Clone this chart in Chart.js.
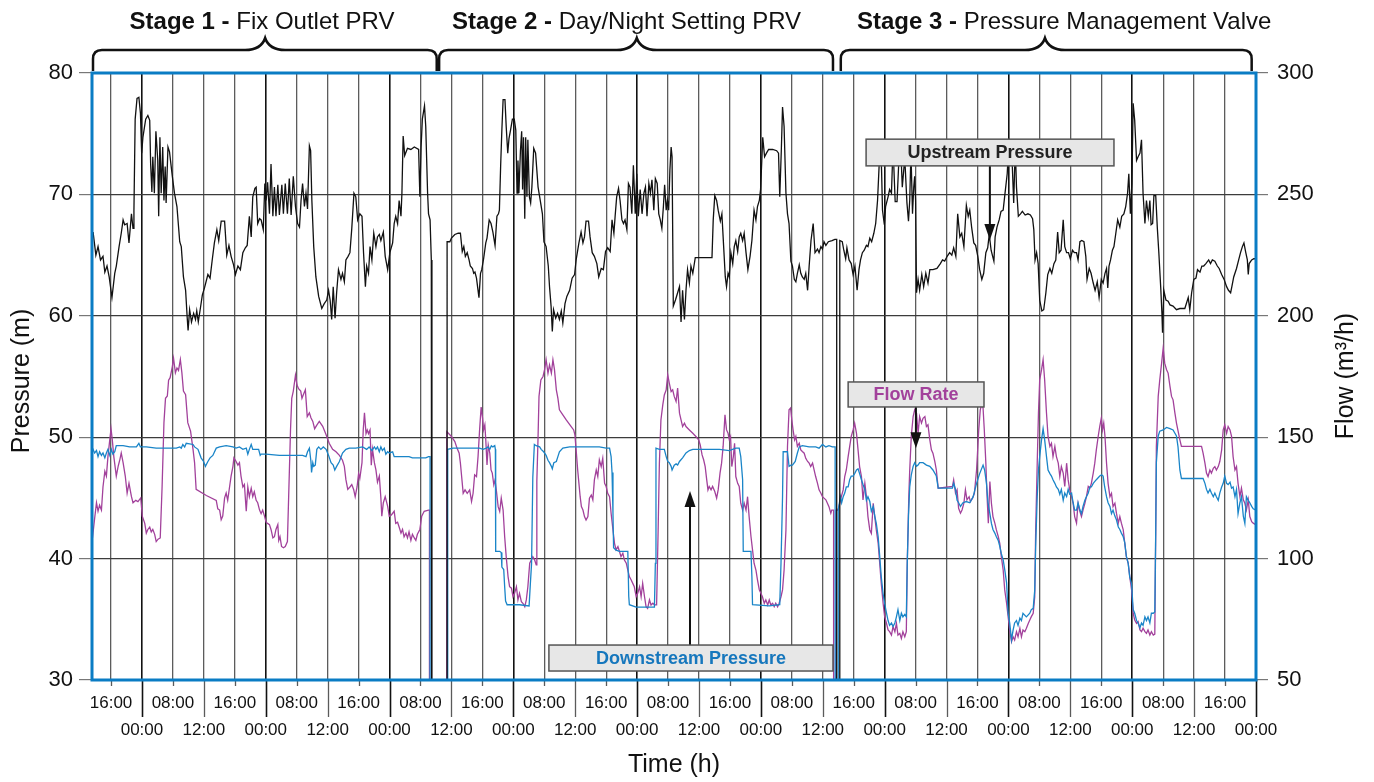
<!DOCTYPE html>
<html><head><meta charset="utf-8">
<script src="https://cdn.jsdelivr.net/npm/chart.js@4.4.0/dist/chart.umd.min.js"></script>
<style>html,body{margin:0;padding:0;background:#fff;}#wrap{width:1374px;height:782px;}</style>
</head><body><div id="wrap"><canvas id="c" width="1374" height="782"></canvas></div>
<script>
// ---------- DATA ----------
// x unit = tick index along the time axis (0 = first "16:00" tick)
const xTickLabels = ['16:00','00:00','08:00','12:00','16:00','00:00','08:00','12:00','16:00','00:00','08:00','12:00',
 '16:00','00:00','08:00','12:00','16:00','00:00','08:00','12:00','16:00','00:00','08:00','12:00',
 '16:00','00:00','08:00','12:00','16:00','00:00','08:00','12:00','16:00','00:00','08:00','12:00','16:00','00:00'];
const pressureTicks = [30,40,50,60,70,80];
const flowTicks = [50,100,150,200,250,300];
const stageBold = ['Stage 1 -','Stage 2 -','Stage 3 -'];
const stageText = [' Fix Outlet PRV',' Day/Night Setting PRV',' Pressure Management Valve'];
const seriesNames = ['Upstream Pressure','Downstream Pressure','Flow Rate'];

const upstreamPressure = [
[-0.58,66.9],[-0.49,65.0],[-0.42,65.7],[-0.34,64.6],[-0.26,64.9],[-0.20,63.6],[-0.13,64.1],[-0.06,63.2],[0.03,61.5],[0.12,63.5],[0.17,64.1],[0.26,65.7],[0.33,66.8],[0.39,67.9],[0.44,67.5],[0.52,67.6],[0.58,66.0],[0.66,68.4],[0.71,67.2],[0.74,68.6],[0.78,76.2],[0.84,77.9],[0.90,78.0],[0.95,76.7],[0.99,73.4],[1.03,74.7],[1.12,76.2],[1.19,76.5],[1.25,76.1],[1.28,72.5],[1.32,70.2],[1.35,73.1],[1.40,70.1],[1.45,75.2],[1.51,72.8],[1.54,68.2],[1.58,74.7],[1.62,70.1],[1.67,73.9],[1.71,69.5],[1.75,72.3],[1.78,69.3],[1.84,73.9],[1.89,73.5],[1.98,71.5],[2.05,70.1],[2.13,69.0],[2.22,66.1],[2.27,65.7],[2.34,63.2],[2.41,62.1],[2.46,59.9],[2.49,58.8],[2.54,60.5],[2.60,59.5],[2.67,60.2],[2.73,59.7],[2.77,60.4],[2.82,59.5],[2.88,60.5],[2.95,61.7],[3.02,62.3],[3.13,63.4],[3.20,63.1],[3.27,64.6],[3.34,66.0],[3.42,67.1],[3.48,66.2],[3.56,67.8],[3.67,67.8],[3.74,65.0],[3.81,65.8],[3.88,64.9],[3.96,64.2],[4.02,63.4],[4.10,64.1],[4.18,63.8],[4.26,65.2],[4.34,65.6],[4.40,65.8],[4.47,68.2],[4.53,66.5],[4.58,69.8],[4.65,70.5],[4.69,70.6],[4.74,67.6],[4.80,68.0],[4.85,67.9],[4.92,67.1],[4.97,70.9],[5.01,69.5],[5.06,71.0],[5.12,68.4],[5.17,72.5],[5.23,68.2],[5.28,70.6],[5.33,68.2],[5.39,70.8],[5.44,68.3],[5.52,70.8],[5.57,68.4],[5.63,70.9],[5.70,68.4],[5.76,71.3],[5.82,68.3],[5.89,71.5],[5.96,69.0],[6.03,67.6],[6.09,67.3],[6.14,69.5],[6.19,70.9],[6.25,69.0],[6.30,70.1],[6.35,68.8],[6.41,74.0],[6.45,73.6],[6.49,69.5],[6.55,65.7],[6.62,63.2],[6.71,61.6],[6.81,60.6],[6.89,61.0],[6.97,61.3],[7.03,62.1],[7.08,61.3],[7.13,59.7],[7.18,62.4],[7.24,59.8],[7.29,61.9],[7.35,63.8],[7.43,63.0],[7.48,63.5],[7.54,62.8],[7.59,64.6],[7.66,64.9],[7.72,65.2],[7.78,67.2],[7.85,70.1],[7.91,69.8],[7.97,67.9],[8.04,68.4],[8.11,68.2],[8.16,65.2],[8.22,62.4],[8.26,64.1],[8.32,63.5],[8.37,65.7],[8.43,64.6],[8.49,66.8],[8.56,65.7],[8.61,66.5],[8.67,66.7],[8.72,66.2],[8.80,66.9],[8.86,64.9],[8.94,63.8],[9.01,65.2],[9.10,66.0],[9.15,67.6],[9.20,68.2],[9.26,67.6],[9.31,69.5],[9.37,68.2],[9.40,70.1],[9.44,74.8],[9.49,73.2],[9.58,73.8],[9.69,73.7],[9.80,73.9],[9.94,73.7],[9.98,69.8],[10.02,73.9],[10.06,76.2],[10.13,77.3],[10.17,75.6],[10.23,70.1],[10.26,68.4],[10.31,67.9],[10.35,64.6],[10.37,64.0],[10.37,0],[10.86,0],
[10.86,66.1],[10.95,66.1],[11.0,66.4],[11.11,66.7],[11.22,66.8],[11.29,66.8],[11.35,65.3],[11.40,65.7],[11.45,64.9],[11.51,65.2],[11.57,64.6],[11.61,64.1],[11.68,63.9],[11.72,63.5],[11.76,63.6],[11.81,63.1],[11.86,62.1],[11.89,61.5],[11.94,63.5],[11.98,63.8],[12.04,64.7],[12.11,66.0],[12.15,66.4],[12.22,67.9],[12.28,67.6],[12.34,66.9],[12.41,65.8],[12.47,68.2],[12.52,68.4],[12.55,68.7],[12.59,72.3],[12.63,75.3],[12.67,77.8],[12.73,77.8],[12.77,75.6],[12.82,73.4],[12.86,74.6],[12.91,75.3],[12.97,76.2],[13.03,76.2],[13.08,75.3],[13.12,70.1],[13.15,72.8],[13.18,70.1],[13.23,73.6],[13.27,75.2],[13.30,70.4],[13.33,74.7],[13.37,68.0],[13.40,74.7],[13.44,69.8],[13.47,74.5],[13.52,69.8],[13.56,69.3],[13.60,70.6],[13.66,73.8],[13.72,73.4],[13.80,70.6],[13.87,69.5],[13.94,68.4],[13.99,66.1],[14.06,65.7],[14.13,64.1],[14.17,62.4],[14.22,60.8],[14.26,58.7],[14.30,60.5],[14.37,59.8],[14.43,60.2],[14.49,59.7],[14.55,60.4],[14.60,59.4],[14.67,61.0],[14.73,61.6],[14.82,62.1],[14.90,63.1],[14.98,63.4],[15.03,64.6],[15.12,66.0],[15.19,66.9],[15.25,66.0],[15.30,66.5],[15.35,67.8],[15.43,67.8],[15.48,66.5],[15.55,65.2],[15.62,64.9],[15.70,64.3],[15.76,63.2],[15.84,63.9],[15.91,63.8],[15.98,65.3],[16.05,65.6],[16.13,65.3],[16.19,67.9],[16.25,66.8],[16.29,68.2],[16.34,69.8],[16.40,70.5],[16.45,69.5],[16.51,67.9],[16.56,67.6],[16.61,67.9],[16.67,67.1],[16.72,70.9],[16.77,70.6],[16.83,68.4],[16.88,72.4],[16.94,68.4],[16.99,71.7],[17.04,68.2],[17.10,70.4],[17.16,68.4],[17.22,70.1],[17.27,70.6],[17.32,68.2],[17.38,70.9],[17.43,70.1],[17.48,71.2],[17.54,68.7],[17.59,71.3],[17.65,70.9],[17.70,68.4],[17.75,67.9],[17.80,67.2],[17.85,69.0],[17.89,70.8],[17.94,68.7],[17.98,69.5],[18.02,68.7],[18.06,72.0],[18.10,73.9],[18.13,73.1],[18.17,60.8],[18.24,61.3],[18.31,61.9],[18.37,62.4],[18.42,59.5],[18.47,62.1],[18.53,59.7],[18.58,62.1],[18.63,63.8],[18.69,62.7],[18.74,64.1],[18.80,63.5],[18.88,64.8],[19.42,64.8],[19.46,67.9],[19.51,69.9],[19.57,69.5],[19.62,68.7],[19.69,67.8],[19.74,68.4],[19.78,66.5],[19.85,63.2],[19.89,62.4],[19.94,63.5],[19.98,63.2],[20.03,65.2],[20.09,64.3],[20.14,65.7],[20.19,66.2],[20.25,65.3],[20.30,66.5],[20.35,66.8],[20.41,66.2],[20.46,66.8],[20.52,65.2],[20.58,63.8],[20.65,64.9],[20.71,66.2],[20.78,68.7],[20.84,67.9],[20.89,69.0],[20.95,69.5],[20.99,70.4],[21.03,72.8],[21.06,74.7],[21.12,73.1],[21.18,73.4],[21.25,73.7],[21.38,73.7],[21.51,73.6],[21.57,73.4],[21.61,69.8],[21.66,73.6],[21.70,77.2],[21.75,75.6],[21.81,70.1],[21.86,68.4],[21.91,67.6],[21.97,64.5],[22.02,64.1],[22.08,63.0],[22.13,62.8],[22.18,63.5],[22.24,64.2],[22.29,63.5],[22.34,63.2],[22.40,63.0],[22.45,63.5],[22.51,62.1],[22.56,64.1],[22.62,66.2],[22.69,67.6],[22.75,65.2],[22.83,65.5],[22.88,65.2],[22.94,65.7],[22.99,65.5],[23.04,66.1],[23.10,65.8],[23.18,66.1],[23.30,66.2],[23.39,66.3],[23.45,66.3],[23.45,0],[23.55,0],
[23.55,66.2],[23.63,66.1],[23.68,65.4],[23.74,64.7],[23.78,65.6],[23.85,64.6],[23.92,64.3],[23.98,63.4],[24.04,64.1],[24.11,62.1],[24.17,63.8],[24.22,64.6],[24.28,65.2],[24.34,65.4],[24.41,65.8],[24.46,65.7],[24.52,66.4],[24.58,66.1],[24.65,66.8],[24.71,67.6],[24.77,69.5],[24.82,72.3],[24.86,74.5],[24.90,72.0],[24.93,68.7],[24.99,67.5],[25.03,69.0],[25.11,69.8],[25.16,70.4],[25.22,70.1],[25.27,74.0],[25.34,69.4],[25.40,69.4],[25.45,72.3],[25.51,74.5],[25.57,70.6],[25.65,73.0],[25.72,69.3],[25.77,67.8],[25.81,69.5],[25.85,73.5],[25.90,68.4],[25.94,70.6],[25.97,71.5],[26.00,69.5],[26.03,61.9],[26.08,63.0],[26.13,62.1],[26.20,63.4],[26.26,62.4],[26.33,63.5],[26.40,62.7],[26.46,63.8],[26.56,63.8],[26.69,63.9],[26.80,64.3],[26.87,64.6],[26.94,64.5],[27.02,64.9],[27.10,65.2],[27.17,65.0],[27.23,65.6],[27.30,64.9],[27.36,68.4],[27.43,66.5],[27.49,66.8],[27.56,65.7],[27.64,69.1],[27.70,68.2],[27.75,68.7],[27.81,67.3],[27.88,66.0],[27.94,65.8],[28.01,64.9],[28.07,63.8],[28.14,63.0],[28.20,63.5],[28.27,65.2],[28.33,65.6],[28.38,66.7],[28.44,65.4],[28.49,64.9],[28.53,64.5],[28.57,66.5],[28.63,67.3],[28.70,67.9],[28.76,68.6],[28.83,68.7],[28.89,70.1],[28.96,71.7],[29.02,74.5],[29.10,74.0],[29.17,69.3],[29.22,74.0],[29.26,70.6],[29.32,68.2],[29.39,68.4],[29.45,68.6],[29.54,68.3],[29.63,68.4],[29.71,68.3],[29.78,68.0],[29.82,67.1],[29.86,64.6],[29.91,65.2],[29.96,64.3],[30.01,61.3],[30.08,60.4],[30.14,60.5],[30.21,61.9],[30.27,63.4],[30.34,63.9],[30.40,63.5],[30.47,64.3],[30.53,64.6],[30.59,66.9],[30.64,65.2],[30.70,65.4],[30.77,67.9],[30.82,65.7],[30.88,65.2],[30.94,65.2],[31.00,64.7],[31.07,65.4],[31.13,65.2],[31.20,65.2],[31.25,64.6],[31.31,66.1],[31.37,66.2],[31.44,66.1],[31.50,64.9],[31.54,63.0],[31.61,63.9],[31.67,63.5],[31.74,62.7],[31.80,62.1],[31.87,62.8],[31.93,61.5],[32.00,63.0],[32.06,62.7],[32.12,63.5],[32.17,63.9],[32.21,62.3],[32.25,64.1],[32.30,64.6],[32.36,65.4],[32.41,65.7],[32.47,66.8],[32.53,67.9],[32.60,67.3],[32.66,68.2],[32.73,68.4],[32.79,69.0],[32.85,70.1],[32.89,71.7],[32.94,68.4],[32.99,70.9],[33.03,77.5],[33.08,76.1],[33.14,72.8],[33.19,73.1],[33.25,73.4],[33.30,74.5],[33.35,70.1],[33.41,67.6],[33.46,69.5],[33.52,68.2],[33.57,69.5],[33.61,67.5],[33.66,67.6],[33.70,69.9],[33.76,69.9],[33.81,67.3],[33.86,65.2],[33.92,62.4],[33.96,60.2],[33.98,58.6],[34.02,62.1],[34.09,61.3],[34.16,61.2],[34.22,60.9],[34.32,60.8],[34.43,60.5],[34.54,60.6],[34.70,60.6],[34.81,61.5],[34.86,60.5],[34.92,61.9],[34.99,63.0],[35.06,63.1],[35.11,63.8],[35.19,63.6],[35.25,64.1],[35.31,64.1],[35.38,64.3],[35.47,64.6],[35.53,64.3],[35.59,64.6],[35.67,64.5],[35.75,64.1],[35.81,63.9],[35.89,63.4],[35.97,63.0],[36.05,62.4],[36.11,62.1],[36.18,61.9],[36.22,62.4],[36.28,63.2],[36.37,63.9],[36.44,64.6],[36.50,65.2],[36.56,65.7],[36.61,66.0],[36.67,65.2],[36.72,64.6],[36.75,63.4],[36.78,64.3],[36.86,64.6],[36.93,64.7],[37.0,64.7]];

const downstreamPressure = [
[-0.60,49.1],[-0.53,48.7],[-0.47,48.9],[-0.42,48.4],[-0.37,48.8],[-0.31,48.5],[-0.26,48.7],[-0.20,48.3],[-0.15,48.7],[-0.10,49.0],[-0.04,48.5],[0.01,49.0],[0.06,48.6],[0.12,48.8],[0.17,49.3],[0.39,49.3],[0.60,49.2],[0.82,49.2],[0.90,49.5],[0.95,49.2],[1.14,49.2],[1.46,49.1],[1.78,49.1],[2.11,49.1],[2.22,49.2],[2.27,49.1],[2.32,49.4],[2.38,49.2],[2.43,49.5],[2.65,49.4],[2.70,49.2],[2.81,49.0],[2.91,48.3],[2.99,48.0],[3.05,47.6],[3.13,48.0],[3.20,48.3],[3.29,48.5],[3.40,49.1],[3.51,49.2],[3.72,49.3],[3.94,49.2],[4.04,49.1],[4.15,49.2],[4.26,49.0],[4.37,49.1],[4.42,48.6],[4.47,49.0],[4.53,49.4],[4.58,49.0],[4.69,49.0],[4.77,49.0],[4.82,48.5],[4.85,48.6],[5.01,48.6],[5.44,48.5],[5.87,48.5],[6.19,48.5],[6.30,48.4],[6.35,48.8],[6.41,49.1],[6.46,48.0],[6.48,47.1],[6.52,47.9],[6.55,47.6],[6.60,47.7],[6.65,49.0],[6.71,49.2],[6.78,49.0],[6.86,49.2],[6.95,49.0],[7.03,48.5],[7.11,47.9],[7.18,47.7],[7.23,47.3],[7.29,47.6],[7.38,48.0],[7.48,48.7],[7.59,49.0],[7.70,49.1],[7.91,49.1],[8.13,49.2],[8.26,49.0],[8.34,49.2],[8.43,48.9],[8.51,49.2],[8.56,49.0],[8.61,49.2],[8.67,48.8],[8.72,49.2],[8.77,48.9],[8.83,49.1],[8.88,48.6],[8.94,48.8],[8.99,48.7],[9.10,48.8],[9.15,48.4],[9.31,48.4],[9.63,48.4],[9.74,48.3],[10.17,48.3],[10.26,48.4],[10.31,48.4],[10.31,0],[10.88,0],
[10.88,49.0],[11.05,49.1],[11.59,49.1],[11.91,49.1],[12.02,49.0],[12.13,49.1],[12.18,49.2],[12.24,49.0],[12.29,49.3],[12.34,49.2],[12.40,49.3],[12.42,49.0],[12.43,40.6],[12.56,40.6],[12.61,40.5],[12.63,39.3],[12.69,39.1],[12.72,37.7],[12.75,36.5],[12.80,36.2],[13.20,36.2],[13.51,36.1],[13.55,37.9],[13.59,39.6],[13.63,46.7],[13.68,49.4],[13.74,49.3],[13.85,49.2],[13.90,49.0],[13.98,48.8],[14.06,48.5],[14.12,48.1],[14.17,47.9],[14.23,47.6],[14.26,47.4],[14.31,47.9],[14.39,48.0],[14.44,48.4],[14.49,48.8],[14.60,49.1],[14.82,49.2],[15.14,49.2],[15.57,49.2],[15.78,49.2],[16.0,49.1],[16.11,49.1],[16.16,48.4],[16.19,47.1],[16.22,43.8],[16.24,40.9],[16.32,40.7],[16.43,40.6],[16.70,40.6],[16.73,36.9],[16.75,36.2],[16.97,36.0],[17.29,36.0],[17.56,36.0],[17.59,39.6],[17.61,49.1],[17.72,49.0],[17.88,49.0],[17.94,48.4],[17.99,48.0],[18.04,47.9],[18.10,47.6],[18.13,47.3],[18.20,47.7],[18.26,47.8],[18.31,47.7],[18.37,48.0],[18.47,48.3],[18.58,48.7],[18.69,48.9],[18.80,49.0],[19.12,49.0],[19.66,49.0],[19.98,48.9],[20.19,49.1],[20.30,49.1],[20.35,48.4],[20.41,46.5],[20.43,40.6],[20.68,40.6],[20.71,38.5],[20.73,36.2],[21.27,36.1],[21.61,36.2],[21.65,39.6],[21.70,45.1],[21.72,48.8],[21.86,48.8],[21.91,47.6],[21.97,47.7],[22.02,47.7],[22.11,48.0],[22.18,48.7],[22.24,49.2],[22.34,49.3],[22.56,49.2],[22.77,49.2],[22.88,49.1],[22.99,49.4],[23.10,49.2],[23.20,49.3],[23.31,49.2],[23.40,49.2],[23.40,0],[23.50,0],
[23.50,44.0],[23.57,45.1],[23.61,44.6],[23.66,45.1],[23.71,45.4],[23.76,45.9],[23.82,45.9],[23.87,46.5],[23.92,46.8],[23.98,46.8],[24.03,47.0],[24.09,47.3],[24.14,47.4],[24.19,47.0],[24.25,46.5],[24.30,46.1],[24.36,45.7],[24.41,44.8],[24.46,45.1],[24.52,44.7],[24.57,43.9],[24.63,44.3],[24.68,43.5],[24.73,42.9],[24.79,41.8],[24.84,40.2],[24.89,38.5],[24.95,37.1],[25.0,36.3],[25.06,35.5],[25.11,34.9],[25.16,34.5],[25.22,34.7],[25.27,34.4],[25.33,34.7],[25.38,35.2],[25.43,35.8],[25.49,34.9],[25.54,35.5],[25.59,35.2],[25.65,35.4],[25.70,35.2],[25.73,39.6],[25.77,43.5],[25.81,45.9],[25.86,46.9],[25.92,47.6],[25.97,47.9],[26.03,47.6],[26.08,47.7],[26.13,47.9],[26.24,47.9],[26.35,47.7],[26.46,47.6],[26.56,47.3],[26.67,46.8],[26.73,45.8],[26.89,45.8],[27.19,45.8],[27.23,46.2],[27.29,45.7],[27.34,44.8],[27.39,44.6],[27.45,44.3],[27.53,44.6],[27.64,44.7],[27.75,44.6],[27.86,45.1],[27.97,46.2],[28.07,47.0],[28.18,47.7],[28.23,47.3],[28.29,46.2],[28.34,44.6],[28.40,43.7],[28.45,42.9],[28.50,42.4],[28.56,42.1],[28.61,41.8],[28.67,41.5],[28.72,41.0],[28.77,40.4],[28.83,39.9],[28.88,39.1],[28.94,38.0],[28.99,35.5],[29.04,34.7],[29.10,33.3],[29.15,34.1],[29.20,34.7],[29.26,34.9],[29.31,34.5],[29.37,35.1],[29.42,34.9],[29.47,35.5],[29.58,35.2],[29.69,35.5],[29.74,35.8],[29.80,35.9],[29.85,37.4],[29.88,41.0],[29.93,45.1],[29.97,47.3],[30.01,48.4],[30.07,49.8],[30.12,50.7],[30.17,49.8],[30.23,48.4],[30.28,47.3],[30.34,47.0],[30.39,46.8],[30.44,46.5],[30.50,46.2],[30.55,45.9],[30.61,45.7],[30.66,45.3],[30.71,45.7],[30.77,44.8],[30.82,45.4],[30.88,45.1],[30.93,45.7],[30.98,45.3],[31.04,45.4],[31.09,44.6],[31.14,44.0],[31.20,44.0],[31.25,44.6],[31.31,44.0],[31.36,43.7],[31.41,44.3],[31.47,44.8],[31.52,45.1],[31.58,45.4],[31.63,45.9],[31.68,45.9],[31.74,46.2],[31.84,46.5],[31.95,46.8],[32.01,46.9],[32.06,46.8],[32.11,45.9],[32.17,45.1],[32.22,44.6],[32.28,44.3],[32.33,43.7],[32.38,44.0],[32.44,43.5],[32.49,43.2],[32.55,42.6],[32.60,42.4],[32.65,42.1],[32.71,41.8],[32.76,41.3],[32.81,40.2],[32.87,39.6],[32.92,38.5],[32.98,37.9],[33.03,35.8],[33.08,35.5],[33.14,34.9],[33.19,34.7],[33.25,34.3],[33.30,34.7],[33.35,34.5],[33.41,35.2],[33.46,34.9],[33.51,35.2],[33.57,34.7],[33.62,35.5],[33.68,35.5],[33.73,35.6],[33.76,42.4],[33.78,47.9],[33.84,50.1],[33.89,50.5],[34.0,50.6],[34.11,50.8],[34.22,50.7],[34.32,50.6],[34.43,50.1],[34.48,49.2],[34.54,47.3],[34.59,46.6],[35.29,46.6],[35.35,46.2],[35.40,45.7],[35.45,45.4],[35.51,45.7],[35.56,45.4],[35.62,45.1],[35.67,45.4],[35.72,45.1],[35.78,44.8],[35.83,45.4],[35.89,45.9],[35.94,46.2],[35.99,46.8],[36.05,46.2],[36.10,46.1],[36.16,46.3],[36.21,45.8],[36.26,45.9],[36.32,45.1],[36.37,45.7],[36.42,43.7],[36.48,44.6],[36.53,45.1],[36.59,43.5],[36.64,42.9],[36.69,45.1],[36.75,44.8],[36.80,44.6],[36.86,44.3],[36.91,44.1],[37.0,44.0]];

const flowRate = [
[-0.60,108.5],[-0.53,116.5],[-0.47,123],[-0.42,119.5],[-0.37,122],[-0.31,120],[-0.26,129.5],[-0.20,136],[-0.15,134],[-0.10,142],[-0.04,149],[0.0,153.5],[0.04,149],[0.09,142],[0.17,134],[0.23,138],[0.28,140.5],[0.33,143.5],[0.39,139.5],[0.46,134],[0.52,127],[0.58,131],[0.66,125.5],[0.71,123],[0.80,124],[0.87,123.5],[0.96,125],[1.01,117.5],[1.09,114.5],[1.14,110.5],[1.19,112],[1.25,113],[1.30,111],[1.35,112],[1.41,110],[1.46,107],[1.52,108],[1.59,108.5],[1.65,129.5],[1.71,156],[1.76,166],[1.82,167],[1.86,173.5],[1.91,174.5],[1.98,179],[2.02,182.5],[2.08,176.5],[2.13,178.5],[2.18,177.5],[2.24,182],[2.29,176.5],[2.34,169],[2.41,167.5],[2.48,156],[2.57,152.5],[2.65,145],[2.70,139.5],[2.75,128.5],[3.08,126],[3.40,124],[3.45,120.5],[3.51,120],[3.56,116],[3.61,117.5],[3.67,125],[3.72,127],[3.77,124],[3.83,129.5],[3.88,134],[3.94,138],[3.97,141.5],[4.02,140.5],[4.10,138.5],[4.15,139.5],[4.20,134],[4.26,129.5],[4.31,130.5],[4.37,119.5],[4.42,129.5],[4.47,125.5],[4.53,129],[4.58,125.5],[4.63,127.5],[4.69,124],[4.74,123],[4.80,120],[4.85,118.5],[4.90,120],[4.96,117.5],[5.01,115],[5.06,114.5],[5.12,114],[5.17,112],[5.23,108.5],[5.28,109],[5.33,112],[5.39,114],[5.42,107.5],[5.46,109],[5.51,105],[5.57,104.5],[5.63,105],[5.70,107],[5.74,125.5],[5.80,153],[5.84,166],[5.89,169],[5.96,175.5],[6.01,171.5],[6.06,170],[6.13,169],[6.17,166],[6.23,168],[6.28,169.5],[6.34,158.5],[6.41,160],[6.46,158],[6.52,156.5],[6.58,153.5],[6.65,155],[6.73,156.5],[6.84,154.5],[6.95,151],[7.05,147.5],[7.16,145],[7.27,144],[7.38,142.5],[7.48,140.5],[7.54,138],[7.59,132.5],[7.65,128.5],[7.72,129.5],[7.78,130.5],[7.84,128.5],[7.89,125.5],[7.95,129.5],[8.00,135],[8.04,133],[8.11,139.5],[8.15,153],[8.19,160],[8.24,151.5],[8.28,153],[8.32,151.5],[8.37,153],[8.41,138.5],[8.45,145],[8.51,139.5],[8.56,136.5],[8.61,131.5],[8.67,134],[8.72,125],[8.75,117.5],[8.80,123],[8.86,125.5],[8.94,121.5],[8.99,117.5],[9.06,118],[9.15,119.5],[9.20,114.5],[9.26,115],[9.31,113],[9.37,110.5],[9.42,112],[9.47,109],[9.53,110.5],[9.58,108.5],[9.63,111],[9.69,107.5],[9.74,110],[9.80,108.5],[9.85,107.5],[9.90,110],[9.98,112],[10.04,117.5],[10.12,119.5],[10.26,120],[10.29,120],[10.29,0],[10.85,0],
[10.85,152.3],[11.0,150.3],[11.11,148.2],[11.18,145.5],[11.25,143.4],[11.29,139.3],[11.33,133.8],[11.38,126.9],[11.44,128.3],[11.51,126.9],[11.59,128.3],[11.65,123.5],[11.70,126.9],[11.75,134.5],[11.81,133.8],[11.86,142.0],[11.91,153.0],[11.96,162.4],[12.0,158.5],[12.04,153.0],[12.08,155.1],[12.11,148.9],[12.15,138.6],[12.19,146.8],[12.24,143.4],[12.28,136.5],[12.32,135.2],[12.37,130.4],[12.41,132.4],[12.45,128.3],[12.51,121.4],[12.56,119.4],[12.61,124.9],[12.67,120.0],[12.72,109.1],[12.77,100.8],[12.83,92.6],[12.88,88.4],[12.94,87.8],[12.99,84.3],[13.04,85.7],[13.10,88.4],[13.15,83.0],[13.20,85.7],[13.26,82.3],[13.31,81.6],[13.37,80.2],[13.42,83.0],[13.47,88.4],[13.53,98.1],[13.58,99.4],[13.63,100.8],[13.69,99.4],[13.74,97.4],[13.76,131.7],[13.80,150.3],[13.83,166.8],[13.89,173.6],[13.96,175.0],[14.01,177.8],[14.06,181.9],[14.12,176.4],[14.17,179.8],[14.23,176.4],[14.28,181.9],[14.33,177.8],[14.39,169.5],[14.44,166.1],[14.49,161.3],[14.60,159.2],[14.71,157.1],[14.87,154.4],[14.95,153.0],[14.99,151.0],[15.03,144.8],[15.08,136.5],[15.12,131.0],[15.16,125.5],[15.20,121.4],[15.25,120.0],[15.30,117.3],[15.35,115.9],[15.41,117.3],[15.46,124.9],[15.52,126.2],[15.57,124.2],[15.62,132.4],[15.68,136.5],[15.73,133.8],[15.78,140.7],[15.84,137.9],[15.89,141.3],[15.95,131.0],[16.0,129.7],[16.05,126.9],[16.11,125.5],[16.16,118.7],[16.22,111.8],[16.27,106.3],[16.32,103.6],[16.38,104.9],[16.43,102.9],[16.48,100.8],[16.54,102.2],[16.59,99.4],[16.65,98.1],[16.70,95.3],[16.75,92.6],[16.81,91.2],[16.86,89.8],[16.91,88.4],[16.97,84.3],[17.02,85.7],[17.08,88.4],[17.13,84.3],[17.18,89.8],[17.24,84.3],[17.29,80.2],[17.34,79.5],[17.40,83.0],[17.45,80.9],[17.51,81.6],[17.56,80.9],[17.63,80.9],[17.68,111.8],[17.72,139.3],[17.77,157.1],[17.83,163.3],[17.88,167.4],[17.94,169.5],[17.99,175.7],[18.04,172.3],[18.10,168.8],[18.15,169.5],[18.20,166.8],[18.26,164.7],[18.31,170.2],[18.37,159.9],[18.42,157.1],[18.47,154.4],[18.53,155.8],[18.58,154.4],[18.69,153.0],[18.80,151.6],[18.90,150.3],[18.99,148.9],[19.04,146.8],[19.10,142.7],[19.15,140.7],[19.20,137.9],[19.25,132.4],[19.29,128.3],[19.33,129.7],[19.39,128.3],[19.44,129.7],[19.51,127.6],[19.57,124.9],[19.62,128.3],[19.68,135.2],[19.73,139.3],[19.78,146.2],[19.84,159.2],[19.89,153.0],[19.94,151.6],[19.98,148.9],[20.02,150.3],[20.06,137.9],[20.11,142.0],[20.15,147.5],[20.19,133.8],[20.25,131.0],[20.30,129.7],[20.35,122.8],[20.41,120.0],[20.46,122.8],[20.52,120.0],[20.57,125.5],[20.62,117.3],[20.68,109.1],[20.73,103.6],[20.78,98.1],[20.84,95.3],[20.89,91.2],[20.95,87.1],[21.0,85.7],[21.05,84.3],[21.11,81.6],[21.16,83.0],[21.22,80.9],[21.27,83.0],[21.32,80.9],[21.38,81.6],[21.43,80.2],[21.48,81.6],[21.54,80.2],[21.59,81.6],[21.65,84.3],[21.70,87.1],[21.75,95.3],[21.81,111.8],[21.86,146.2],[21.91,161.3],[21.96,162.0],[22.0,157.1],[22.04,153.0],[22.09,148.9],[22.13,150.3],[22.18,146.2],[22.24,147.5],[22.29,144.8],[22.34,144.1],[22.40,143.4],[22.45,141.3],[22.51,140.0],[22.56,139.3],[22.61,137.9],[22.67,139.3],[22.72,136.5],[22.77,133.8],[22.83,131.0],[22.88,128.3],[22.94,126.9],[22.99,125.5],[23.04,124.9],[23.10,124.2],[23.15,122.8],[23.20,121.4],[23.26,118.7],[23.29,120.0],[23.35,120.0],[23.35,0],[23.42,0],
[23.42,120.0],[23.49,120.0],[23.55,122.8],[23.60,125.5],[23.66,128.3],[23.71,133.8],[23.76,136.5],[23.82,142.0],[23.87,146.2],[23.92,150.3],[23.98,153.0],[24.03,155.8],[24.09,151.6],[24.14,144.8],[24.19,137.9],[24.25,133.8],[24.30,124.2],[24.36,131.0],[24.41,125.5],[24.46,117.3],[24.52,111.8],[24.57,110.4],[24.63,122.8],[24.68,117.3],[24.73,111.8],[24.79,106.3],[24.84,98.1],[24.89,89.8],[24.95,81.6],[25.0,76.1],[25.06,73.3],[25.11,70.6],[25.16,69.9],[25.22,68.5],[25.27,72.0],[25.33,69.9],[25.38,73.3],[25.43,68.5],[25.49,69.2],[25.54,67.1],[25.59,69.9],[25.65,67.8],[25.70,69.9],[25.73,98.1],[25.78,125.5],[25.81,136.5],[25.86,150.3],[25.92,158.5],[25.97,161.3],[26.03,159.9],[26.08,151.6],[26.13,158.5],[26.19,155.8],[26.24,157.8],[26.30,158.5],[26.35,154.4],[26.40,155.1],[26.46,148.9],[26.51,144.8],[26.56,143.4],[26.62,140.0],[26.67,136.5],[26.73,129.0],[27.19,129.7],[27.23,132.4],[27.29,126.9],[27.34,128.3],[27.39,120.7],[27.45,118.7],[27.50,120.0],[27.56,122.8],[27.61,128.3],[27.66,124.2],[27.73,125.5],[27.77,123.5],[27.84,124.9],[27.90,126.9],[27.97,136.5],[28.0,143.4],[28.04,153.0],[28.09,161.3],[28.14,164.0],[28.18,162.0],[28.22,153.0],[28.27,139.3],[28.31,125.5],[28.35,114.6],[28.40,131.7],[28.45,122.8],[28.50,117.3],[28.56,114.6],[28.61,111.8],[28.67,109.1],[28.72,106.3],[28.77,100.8],[28.83,95.3],[28.88,87.1],[28.94,81.6],[28.99,76.1],[29.04,70.6],[29.10,65.8],[29.15,67.8],[29.20,66.5],[29.26,69.9],[29.31,67.8],[29.37,71.3],[29.42,67.8],[29.47,70.6],[29.53,69.9],[29.58,71.3],[29.64,73.3],[29.69,74.7],[29.74,76.1],[29.80,77.5],[29.85,84.3],[29.88,111.8],[29.93,139.3],[29.97,159.9],[30.01,173.6],[30.07,177.8],[30.12,181.9],[30.17,173.6],[30.23,159.9],[30.28,150.3],[30.34,146.2],[30.39,147.5],[30.44,142.0],[30.50,146.2],[30.55,142.0],[30.61,139.3],[30.66,133.8],[30.71,137.9],[30.77,135.2],[30.82,129.7],[30.88,139.3],[30.93,132.4],[30.98,128.3],[31.04,125.5],[31.09,122.8],[31.14,117.3],[31.20,114.6],[31.25,122.8],[31.31,119.4],[31.36,117.3],[31.41,120.0],[31.47,122.8],[31.52,125.5],[31.58,129.7],[31.63,129.0],[31.68,131.0],[31.74,135.2],[31.79,139.3],[31.84,144.8],[31.90,150.3],[31.95,154.4],[32.0,157.8],[32.04,153.0],[32.08,155.8],[32.12,150.3],[32.17,139.3],[32.22,131.0],[32.28,125.5],[32.33,126.9],[32.38,121.4],[32.44,122.8],[32.49,118.7],[32.55,114.6],[32.60,117.3],[32.65,114.6],[32.71,111.8],[32.76,106.3],[32.81,100.8],[32.87,98.1],[32.92,92.6],[32.98,87.1],[33.03,77.5],[33.08,74.7],[33.14,73.3],[33.19,74.0],[33.25,70.6],[33.30,69.9],[33.35,71.3],[33.41,69.9],[33.46,69.2],[33.51,70.6],[33.57,68.5],[33.62,69.9],[33.68,68.5],[33.73,68.9],[33.76,111.8],[33.78,146.2],[33.84,166.8],[33.89,173.6],[33.95,180.5],[34.0,186.7],[34.05,180.5],[34.11,177.8],[34.16,176.4],[34.22,170.9],[34.27,166.8],[34.32,165.4],[34.38,159.9],[34.43,155.8],[34.54,148.9],[34.59,146.2],[35.24,146.2],[35.29,143.4],[35.35,139.3],[35.40,135.2],[35.45,133.8],[35.51,136.5],[35.56,135.2],[35.62,137.2],[35.67,137.9],[35.72,136.5],[35.78,137.9],[35.83,140.0],[35.89,144.8],[35.94,153.0],[35.99,155.1],[36.05,151.6],[36.10,154.4],[36.16,153.0],[36.21,150.3],[36.26,142.0],[36.32,136.5],[36.37,137.9],[36.42,131.0],[36.48,125.5],[36.53,129.0],[36.59,124.2],[36.64,122.8],[36.69,120.0],[36.75,124.2],[36.80,117.3],[36.86,115.2],[36.91,114.6],[37.0,113.9]];

// ---------- CHART ----------
const SANS = '"Liberation Sans",Arial,Helvetica,sans-serif';
const BLUE = '#1a85c8', PURPLE = '#a2419b', FRAME = '#0a7cc4';
const toXY = a => a.map(p => ({x: p[0], y: p[1]}));

// annotation specs in data units (x: tick index, y: pressure m)
const stageSpans = [[-0.615, 4.98, 10.525, 4.88],[10.57, 16.99, 23.33, 16.66],[23.55, 30.18, 36.86, 30.80]];
const notes = [
  {text: seriesNames[0], color:'#222', x0:24.40, x1:32.41, y0:74.55, y1:72.35, ax:28.40, tip:66.25},
  {text: seriesNames[2], color:PURPLE, x0:23.82, x1:28.21, y0:54.55, y1:52.49, ax:26.01, tip:49.10},
  {text: seriesNames[1], color:'#1677bd', x0:14.15, x1:23.33, y0:32.88, y1:30.74, ax:18.71, tip:45.57}
];

const deco = {
  id: 'deco',
  afterDraw(chart) {
    const {ctx, chartArea: a} = chart;
    const xs = chart.scales.x, ys = chart.scales.y;
    ctx.save();
    // x tick marks (two rows)
    xs.ticks.forEach(t => {
      const px = Math.round(xs.getPixelForValue(t.value)) + 0.5;
      const low = t.value % 2 === 1;
      ctx.beginPath(); ctx.moveTo(px, a.bottom); ctx.lineTo(px, a.bottom + (low ? 37 : 6));
      ctx.strokeStyle = t.value % 4 === 1 ? '#111' : '#5a5a5a';
      ctx.lineWidth = t.value % 4 === 1 ? 1.6 : 1.3; ctx.stroke();
    });
    // frame
    ctx.strokeStyle = FRAME; ctx.lineWidth = 3;
    ctx.strokeRect(a.left, a.top, a.right - a.left, a.bottom - a.top);
    // axis titles
    ctx.fillStyle = '#111'; ctx.textAlign = 'center'; ctx.textBaseline = 'middle';
    ctx.font = '25px ' + SANS;
    ctx.fillText('Time (h)', (a.left + a.right) / 2, 765);
    ctx.save(); ctx.translate(22, 381); ctx.rotate(-Math.PI / 2); ctx.fillText('Pressure (m)', 0, 0); ctx.restore();
    ctx.save(); ctx.translate(1346, 376); ctx.rotate(-Math.PI / 2); ctx.fillText('Flow (m\u00B3/h)', 0, 0); ctx.restore();
    // stage braces + titles
    stageSpans.forEach((s, i) => {
      const L = xs.getPixelForValue(s[0]) + 1, C = xs.getPixelForValue(s[1]), R = xs.getPixelForValue(s[2]);
      ctx.beginPath();
      ctx.moveTo(L, 71); ctx.lineTo(L, 59);
      ctx.quadraticCurveTo(L, 50, L + 9, 50);
      ctx.lineTo(C - 20, 50);
      ctx.quadraticCurveTo(C - 4, 50, C, 38);
      ctx.quadraticCurveTo(C + 4, 50, C + 20, 50);
      ctx.lineTo(R - 9, 50);
      ctx.quadraticCurveTo(R, 50, R, 59); ctx.lineTo(R, 71);
      ctx.strokeStyle = '#111'; ctx.lineWidth = 2.5; ctx.stroke();
      const tc = xs.getPixelForValue(s[3]);
      ctx.textBaseline = 'alphabetic'; ctx.textAlign = 'left'; ctx.fillStyle = '#111';
      ctx.font = 'bold 24px ' + SANS; const wb = ctx.measureText(stageBold[i]).width;
      ctx.font = '24px ' + SANS; const wr = ctx.measureText(stageText[i]).width;
      const x0 = tc - (wb + wr) / 2;
      ctx.font = 'bold 24px ' + SANS; ctx.fillText(stageBold[i], x0, 29);
      ctx.font = '24px ' + SANS; ctx.fillText(stageText[i], x0 + wb, 29);
    });
    // annotation boxes with arrows
    notes.forEach(n => {
      const x0 = xs.getPixelForValue(n.x0), x1 = xs.getPixelForValue(n.x1);
      const y0 = ys.getPixelForValue(n.y0), y1 = ys.getPixelForValue(n.y1);
      const ax = xs.getPixelForValue(n.ax), tip = ys.getPixelForValue(n.tip);
      const from = tip > y1 ? y1 : y0; const dir = tip > from ? 1 : -1;
      ctx.strokeStyle = '#111'; ctx.lineWidth = 2;
      ctx.beginPath(); ctx.moveTo(ax, from); ctx.lineTo(ax, tip - dir * 12); ctx.stroke();
      ctx.fillStyle = '#111'; ctx.beginPath();
      ctx.moveTo(ax, tip); ctx.lineTo(ax - 5.5, tip - dir * 16); ctx.lineTo(ax + 5.5, tip - dir * 16); ctx.closePath(); ctx.fill();
      ctx.fillStyle = '#e7e7e7'; ctx.fillRect(x0, y0, x1 - x0, y1 - y0);
      ctx.strokeStyle = '#555'; ctx.lineWidth = 1.5; ctx.strokeRect(x0, y0, x1 - x0, y1 - y0);
      ctx.fillStyle = n.color; ctx.font = 'bold 18px ' + SANS; ctx.textAlign = 'center'; ctx.textBaseline = 'middle';
      ctx.fillText(n.text, (x0 + x1) / 2, (y0 + y1) / 2 + 1);
    });
    ctx.restore();
  }
};

new Chart(document.getElementById('c'), {
  type: 'line',
  data: { datasets: [
    {label: seriesNames[0], data: toXY(upstreamPressure), yAxisID: 'y', borderColor: '#111', borderWidth: 1.3},
    {label: seriesNames[1], data: toXY(downstreamPressure), yAxisID: 'y', borderColor: BLUE, borderWidth: 1.3},
    {label: seriesNames[2], data: toXY(flowRate), yAxisID: 'y1', borderColor: PURPLE, borderWidth: 1.3}
  ]},
  options: {
    responsive: false, animation: false, parsing: true,
    elements: { point: { radius: 0 }, line: { tension: 0, fill: false } },
    layout: { padding: { top: 73, left: 0, right: 0, bottom: 0 } },
    plugins: { legend: { display: false }, tooltip: { enabled: false } },
    scales: {
      x: {
        type: 'linear', min: -0.615, max: 37,
        afterBuildTicks: s => { s.ticks = xTickLabels.map((_, i) => ({value: i})); },
        afterFit: s => { s.height = 102; },
        border: { display: false },
        grid: { drawTicks: false,
          color: c => (c.tick && c.tick.value % 4 === 1) ? '#111' : '#5c5c5c',
          lineWidth: c => (c.tick && c.tick.value % 4 === 1) ? 1.6 : 1.3 },
        ticks: { autoSkip: false, maxRotation: 0, minRotation: 0, padding: 9.5, color: '#111',
          font: { family: SANS, size: 17, lineHeight: 1.59 },
          callback: v => (v % 2 === 0) ? [xTickLabels[v], ''] : ['', xTickLabels[v]] }
      },
      y: {
        position: 'left', min: 30, max: 80,
        afterBuildTicks: s => { s.ticks = pressureTicks.map(v => ({value: v})); },
        afterFit: s => { s.width = 92; },
        border: { display: false },
        grid: { color: '#3c3c3c', lineWidth: 1.2, tickLength: 13, tickColor: '#777' },
        ticks: { padding: 6, color: '#111', font: { family: SANS, size: 22 } }
      },
      y1: {
        position: 'right', min: 50, max: 300,
        afterBuildTicks: s => { s.ticks = flowTicks.map(v => ({value: v})); },
        afterFit: s => { s.width = 118; },
        border: { display: false },
        grid: { drawOnChartArea: false, tickLength: 12, tickColor: '#777', lineWidth: 1.2 },
        ticks: { padding: 9, color: '#111', font: { family: SANS, size: 22 } }
      }
    }
  },
  plugins: [deco]
});
</script></body></html>
